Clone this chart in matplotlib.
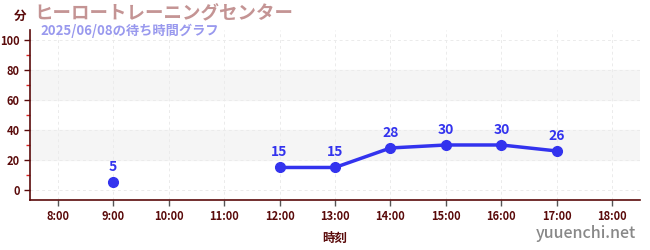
import matplotlib
matplotlib.use("Agg")
import matplotlib.pyplot as plt
from matplotlib.ticker import MultipleLocator
import numpy as np

plt.rcParams['font.family'] = ['Noto Sans CJK JP', 'DejaVu Sans']

hours = [9, 10, 11, 12, 13, 14, 15, 16, 17]
waits = [5, None, None, 15, 15, 28, 30, 30, 26]
xtick_hours = list(range(8, 19))
xtick_labels = [f"{h}:00" for h in xtick_hours]
yticks = [0, 20, 40, 60, 80, 100]

title = "ヒーロートレーニングセンター"
subtitle = "2025/06/08の待ち時間グラフ"

fig = plt.figure(figsize=(6.5, 2.5), dpi=100)
ax = fig.add_axes([30/650, 50/250, 610/650, 170/250])

dark = '#5a0a0a'
blue = '#3333ee'

ax.set_xlim(7.5, 18.5)
ax.set_ylim(-6.7, 106.7)

for lo, hi in [(20, 40), (60, 80)]:
    ax.axhspan(lo, hi, color='#f5f5f5', zorder=0)

ax.set_xticks(xtick_hours)
ax.set_xticklabels(xtick_labels)
ax.set_yticks(yticks)
ax.yaxis.set_minor_locator(MultipleLocator(10))
ax.grid(True, which='major', color='#ebebeb', linestyle=(0, (3, 3)), linewidth=0.7, zorder=0)

y = np.array([np.nan if v is None else v for v in waits], dtype=float)
ax.plot(hours, y, color=blue, linewidth=2.5, marker='o', markersize=7, zorder=3)
for h, v in zip(hours, waits):
    if v is not None:
        ax.annotate(str(v), (h, v), xytext=(0, 6), textcoords='offset points',
                    ha='center', va='bottom', color=blue, fontsize=10, fontweight='bold')

for s in ['top', 'right']:
    ax.spines[s].set_visible(False)
for s in ['left', 'bottom']:
    ax.spines[s].set_color(dark)
    ax.spines[s].set_linewidth(1.2)

ax.tick_params(axis='both', which='major', colors=dark, labelsize=8, length=4, width=1)
ax.tick_params(axis='y', which='minor', colors='#dd2222', length=3, width=1)
ax.tick_params(axis='x', which='major', color='#555555')
for lab in ax.get_xticklabels() + ax.get_yticklabels():
    lab.set_fontweight('bold')
    lab.set_color(dark)

ax.set_xlabel("時刻", color=dark, fontsize=9, fontweight='bold', labelpad=6)

fig.text(20/650, 1 - 16/250, "分", color=dark, fontsize=9, fontweight='bold', ha='center', va='center')
fig.text(34/650, 1 - 14/250, title, color='#c49494', fontsize=13.3, fontweight='bold', ha='left', va='center')
fig.text(40/650, 1 - 31/250, subtitle, color='#9999ee', fontsize=9.5, fontweight='bold', ha='left', va='center')
fig.text(636/650, 1 - 233/250, "yuuenchi.net", color='#888888', fontsize=11.5, fontweight='medium', ha='right', va='center')

fig.savefig("out.png", dpi=100)
